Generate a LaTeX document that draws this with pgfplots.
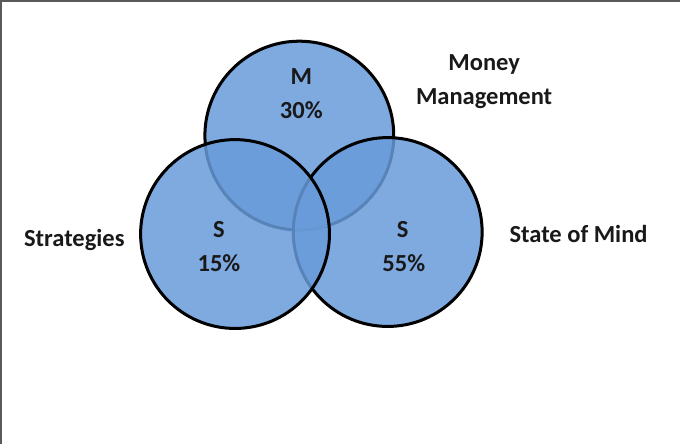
\documentclass[border=0pt]{standalone}
\usepackage{pgfplots}
\pgfplotsset{compat=1.18}
\usepackage{fontspec}
\setmainfont{Carlito}
\definecolor{vblue}{RGB}{104,155,218}
\definecolor{frame}{RGB}{90,90,90}
\definecolor{txt}{RGB}{25,25,25}
\begin{document}
\begin{tikzpicture}
\begin{axis}[width=681bp,height=448bp,scale only axis,
  xmin=0,xmax=681,ymin=0,ymax=448,y dir=reverse,hide axis,clip=false]
% frame (top and left edges visible)
\draw[frame,line width=2bp] (axis cs:5,448) -- (axis cs:5,7) -- (axis cs:681,7);
% circles: Money Management (top), State of Mind (right), Strategies (left)
\filldraw[fill=vblue,fill opacity=0.85,draw=black,line width=3bp] (axis cs:302,141) circle [radius=94];
\filldraw[fill=vblue,fill opacity=0.85,draw=black,line width=3bp] (axis cs:390,237) circle [radius=94];
\filldraw[fill=vblue,fill opacity=0.85,draw=black,line width=3bp] (axis cs:238,239) circle [radius=94];
\tikzset{lab/.style={font=\bfseries\fontsize{24.5}{28}\selectfont,text=txt,inner sep=0pt}}
\node[lab] at (axis cs:304,82) {M};
\node[lab] at (axis cs:304,116) {30\%};
\node[lab] at (axis cs:222,235) {S};
\node[lab] at (axis cs:222,268) {15\%};
\node[lab] at (axis cs:405,235) {S};
\node[lab] at (axis cs:406,268) {55\%};
\node[lab] at (axis cs:486,70) {Money};
\node[lab] at (axis cs:486,104) {Management};
\node[lab] at (axis cs:78,245) {Strategies};
\node[lab] at (axis cs:580,239) {State of Mind};
\end{axis}
\end{tikzpicture}
\end{document}
